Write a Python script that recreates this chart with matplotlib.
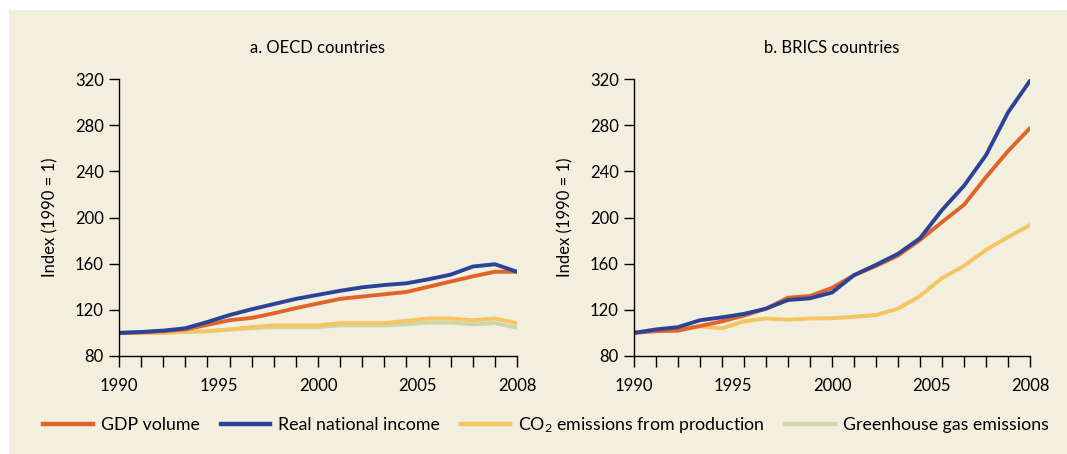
import matplotlib.pyplot as plt
import numpy as np
from matplotlib.patches import Rectangle

years = list(range(1990, 2009))
tick_labels = ["1990", "1995", "2000", "2005", "2008"]

# a. OECD countries
gdp_oecd = [100, 100.5, 101.5, 103, 107, 111, 113, 117, 121.5, 125.5,
            129.5, 131.5, 133.5, 135.5, 140, 144.5, 149, 153, 153]
income_oecd = [100, 100.8, 102, 104, 109.5, 115.5, 120.5, 125, 129.5, 133,
               136.5, 139.5, 141.5, 143, 146.5, 150.5, 157.5, 159.5, 153]
co2_oecd = [100, 100, 100, 101, 101.5, 103, 105, 106.5, 106.5, 106.5,
            108.5, 108.5, 108.5, 110.5, 112.5, 112.5, 111, 112.5, 108.5]
ghg_oecd = [100, 100, 100, 101, 101.5, 103, 104, 105, 105, 105,
            106.5, 106.5, 106.5, 107.5, 109, 109, 107.5, 108.5, 104.5]

# b. BRICS countries
gdp_brics = [100, 101.5, 102, 106, 110, 115, 121, 130.5, 132, 139,
             150, 158, 167, 180.5, 196, 211, 235, 257.5, 277.5]
income_brics = [100, 103, 105, 111, 113.5, 116.5, 121, 128.5, 130, 135,
                150, 159, 168.5, 182, 206.5, 227.5, 254, 291, 318.5]
co2_brics = [100, 103, 104, 105.5, 104, 110, 112.5, 111.5, 112.5, 112.7,
             114, 115.5, 121, 132, 147.5, 158, 172, 183, 193.5]

ORANGE = "#E0632A"
BLUE = "#2B4396"
YELLOW = "#F3C563"
GREEN = "#CFD5AA"
BG = "#F2EFDF"

plt.rcParams["font.family"] = ["Lato", "DejaVu Sans"]
plt.rcParams["mathtext.default"] = "regular"

fig = plt.figure(figsize=(10.67, 4.54), dpi=100)
fig.patches.append(Rectangle((9 / 1067, 0), 1, 1 - 10 / 454, transform=fig.transFigure,
                             facecolor=BG, edgecolor="none", zorder=-10))

ax_a = fig.add_axes([119 / 1067, 1 - 356 / 454, 398 / 1067, 277 / 454])
ax_b = fig.add_axes([634 / 1067, 1 - 356 / 454, 396 / 1067, 277 / 454])

lw = 2.8
panels = [
    (ax_a, "a. OECD countries", gdp_oecd, income_oecd, co2_oecd, ghg_oecd),
    (ax_b, "b. BRICS countries", gdp_brics, income_brics, co2_brics, None),
]
for ax, title, gdp, income, co2, ghg in panels:
    ax.set_facecolor("none")
    if ghg is not None:
        ax.plot(years, ghg, color=GREEN, lw=lw, solid_capstyle="round")
    ax.plot(years, co2, color=YELLOW, lw=lw, solid_capstyle="round")
    ax.plot(years, gdp, color=ORANGE, lw=lw, solid_capstyle="round")
    ax.plot(years, income, color=BLUE, lw=lw, solid_capstyle="round")

    ax.set_xlim(1990, 2008)
    ax.set_ylim(80, 320)
    ax.set_yticks(np.arange(80, 321, 40))
    # year marks as minor ticks, evenly spread labels as major ticks
    ax.xaxis.remove_overlapping_locs = False
    ax.set_xticks(np.linspace(1990, 2008, 5), tick_labels)
    ax.set_xticks(years, minor=True)
    ax.tick_params(axis="x", which="minor", direction="out", length=8, width=1)
    ax.tick_params(axis="x", which="major", length=0, pad=16, labelsize=12)
    ax.tick_params(axis="y", direction="out", length=7, width=1, pad=4, labelsize=12)
    for side in ("top", "right"):
        ax.spines[side].set_visible(False)
    for side in ("left", "bottom"):
        ax.spines[side].set_linewidth(1)
    ax.set_title(title, fontsize=12, pad=19)
    ax.set_ylabel("Index (1990 = 1)", fontsize=12, labelpad=12)

handles = [
    plt.Line2D([], [], color=ORANGE, lw=3.2),
    plt.Line2D([], [], color=BLUE, lw=3.2),
    plt.Line2D([], [], color=YELLOW, lw=3.2),
    plt.Line2D([], [], color=GREEN, lw=3.2),
]
labels = ["GDP volume", "Real national income",
          "CO$_2$ emissions from production", "Greenhouse gas emissions"]
fig.legend(handles, labels, loc="center", bbox_to_anchor=(0.512, 1 - 425 / 454),
           ncol=4, frameon=False, fontsize=12.8, handlelength=2.8,
           columnspacing=1.15, handletextpad=0.45)

fig.savefig("out.png", dpi=100)
